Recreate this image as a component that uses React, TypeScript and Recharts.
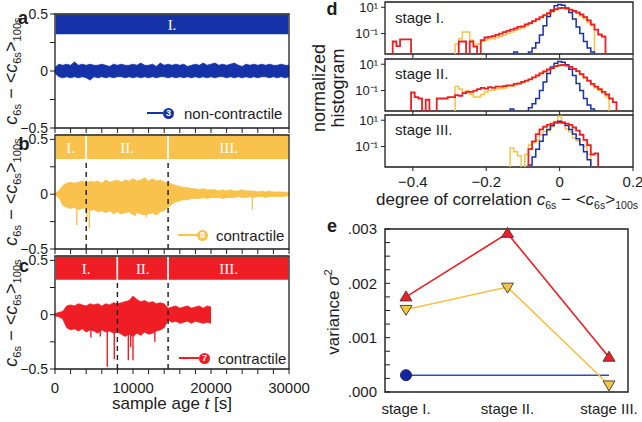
import React from "react";
import {
  ComposedChart,
  LineChart,
  Line,
  Area,
  XAxis,
  YAxis,
  ReferenceArea,
  ReferenceLine,
} from "recharts";

const FONT = "'Liberation Sans', Arial, sans-serif";
const SERIF = "'Liberation Serif', 'Times New Roman', serif";
const INK = "#1c1c1c";
const BLUE = "#1632a8";
const YELLOW = "#f8c24c";
const RED = "#ee1e24";

// ---- panels a-c: c6s - <c6s>100s, envelope every 500 s ----
const sampleTimes = [
  0, 500, 1000, 1500, 2000, 2500, 3000, 3500, 4000, 4500,
  5000, 5500, 6000, 6500, 7000, 7500, 8000, 8500, 9000, 9500,
  10000, 10500, 11000, 11500, 12000, 12500, 13000, 13500, 14000, 14500,
  15000, 15500, 16000, 16500, 17000, 17500, 18000, 18500, 19000, 19500,
  20000, 20500, 21000, 21500, 22000, 22500, 23000, 23500, 24000, 24500,
  25000, 25500, 26000, 26500, 27000, 27500, 28000, 28500, 29000, 29500,
  30000,
];

const aHigh = [
  0.03, 0.06, 0.05, 0.06, 0.05, 0.08, 0.05, 0.06, 0.05, 0.06,
  0.05, 0.05, 0.06, 0.05, 0.04, 0.06, 0.05, 0.06, 0.05, 0.05,
  0.06, 0.05, 0.07, 0.05, 0.05, 0.06, 0.04, 0.07, 0.05, 0.06,
  0.05, 0.06, 0.05, 0.06, 0.04, 0.05, 0.06, 0.05, 0.07, 0.05,
  0.06, 0.07, 0.05, 0.06, 0.05, 0.06, 0.07, 0.05, 0.04, 0.06,
  0.05, 0.06, 0.05, 0.06, 0.05, 0.06, 0.05, 0.05, 0.06, 0.05,
  0.05,
];
const aLow = [
  -0.02, -0.05, -0.06, -0.05, -0.06, -0.05, -0.06, -0.05, -0.06, -0.08,
  -0.05, -0.06, -0.05, -0.06, -0.05, -0.06, -0.05, -0.05, -0.06, -0.05,
  -0.06, -0.05, -0.06, -0.05, -0.06, -0.05, -0.06, -0.05, -0.05, -0.06,
  -0.05, -0.06, -0.05, -0.06, -0.05, -0.06, -0.05, -0.06, -0.05, -0.06,
  -0.05, -0.06, -0.05, -0.05, -0.06, -0.05, -0.06, -0.05, -0.06, -0.05,
  -0.06, -0.05, -0.06, -0.05, -0.05, -0.06, -0.05, -0.06, -0.05, -0.06,
  -0.05,
];

const bHigh = [
  0.01, 0.03, 0.08, 0.1, 0.11, 0.1, 0.11, 0.12, 0.1, 0.12,
  0.11, 0.12, 0.1, 0.13, 0.11, 0.12, 0.13, 0.11, 0.13, 0.12,
  0.14, 0.12, 0.13, 0.15, 0.12, 0.14, 0.12, 0.13, 0.11, 0.11,
  0.09, 0.08, 0.07, 0.06, 0.06, 0.05, 0.05, 0.04, 0.05, 0.04,
  0.04, 0.04, 0.03, 0.04, 0.03, 0.04, 0.03, 0.03, 0.04, 0.03,
  0.03, 0.03, 0.02, 0.03, 0.02, 0.03, 0.02, 0.02, 0.02, 0.02,
  0.01,
];
const bLow = [
  -0.01, -0.03, -0.1, -0.12, -0.13, -0.12, -0.14, -0.13, -0.12, -0.15,
  -0.14, -0.16, -0.15, -0.17, -0.15, -0.18, -0.16, -0.18, -0.17, -0.16,
  -0.19, -0.17, -0.18, -0.19, -0.18, -0.17, -0.19, -0.16, -0.15, -0.12,
  -0.09, -0.07, -0.06, -0.05, -0.05, -0.04, -0.04, -0.04, -0.03, -0.04,
  -0.03, -0.03, -0.03, -0.04, -0.03, -0.03, -0.03, -0.02, -0.03, -0.03,
  -0.02, -0.03, -0.02, -0.02, -0.03, -0.02, -0.02, -0.02, -0.02, -0.02,
  -0.01,
];
const bSpikeT = [2800, 4100, 4400, 10300, 11700, 25300];
const bSpikeV = [-0.28, -0.24, -0.31, -0.2, -0.21, -0.14];

const cTimes = sampleTimes.slice(0, 41);
const cHigh = [
  0.01, 0.02, 0.03, 0.08, 0.09, 0.08, 0.1, 0.09, 0.08, 0.1,
  0.09, 0.1, 0.08, 0.1, 0.09, 0.11, 0.1, 0.11, 0.12, 0.13,
  0.17, 0.14, 0.12, 0.13, 0.11, 0.12, 0.1, 0.11, 0.1, 0.06,
  0.07, 0.08, 0.06, 0.07, 0.08, 0.06, 0.07, 0.08, 0.06, 0.08,
  0.07,
];
const cLow = [
  -0.01, -0.02, -0.04, -0.12, -0.14, -0.13, -0.15, -0.13, -0.16, -0.14,
  -0.15, -0.17, -0.14, -0.16, -0.15, -0.17, -0.16, -0.18, -0.2, -0.18,
  -0.2, -0.17, -0.19, -0.16, -0.18, -0.17, -0.15, -0.14, -0.12, -0.05,
  -0.07, -0.06, -0.08, -0.07, -0.06, -0.08, -0.06, -0.07, -0.08, -0.07,
  -0.08,
];
const cSpikeT = [4600, 5800, 6700, 7600, 9400, 9700, 10000, 12800];
const cSpikeV = [-0.21, -0.2, -0.48, -0.41, -0.42, -0.3, -0.42, -0.25];

const stageNames = ["I.", "II.", "III."];
const aStages = [0, 30000];
const bStages = [0, 4000, 14500, 30000];
const cStages = [0, 8000, 14500, 30000];

const xTicks = [0, 2000, 4000, 6000, 8000, 10000, 12000, 14000, 16000, 18000, 20000, 22000, 24000, 26000, 28000, 30000];
const yTicks = [-0.5, -0.25, 0, 0.25, 0.5];

// ---- panel d: normalized histograms, bins every 0.01 ----
const histX = [
  -0.48, -0.47, -0.46, -0.45, -0.44, -0.43, -0.42, -0.41,
  -0.4, -0.39, -0.38, -0.37, -0.36, -0.35, -0.34, -0.33, -0.32, -0.31,
  -0.3, -0.29, -0.28, -0.27, -0.26, -0.25, -0.24, -0.23, -0.22, -0.21,
  -0.2, -0.19, -0.18, -0.17, -0.16, -0.15, -0.14, -0.13, -0.12, -0.11,
  -0.1, -0.09, -0.08, -0.07, -0.06, -0.05, -0.04, -0.03, -0.02, -0.01,
  0, 0.01, 0.02, 0.03, 0.04, 0.05, 0.06, 0.07, 0.08, 0.09,
  0.1, 0.11, 0.12, 0.13, 0.14, 0.15, 0.16, 0.17, 0.18, 0.19,
  0.2,
];

const blueI = [
  0, 0, 0, 0, 0, 0, 0, 0,
  0, 0, 0, 0, 0, 0, 0, 0, 0, 0,
  0, 0, 0, 0, 0, 0, 0, 0, 0, 0,
  0, 0, 0, 0, 0, 0, 0, 0, 0.004, 0,
  0, 0, 0.004, 0.008, 0.02, 0.079, 0.4, 2.0, 6.3, 13,
  16, 14, 8.9, 4.0, 1.26, 0.32, 0.1, 0.025, 0.008, 0.004,
  0, 0, 0, 0, 0, 0, 0, 0, 0, 0,
  0,
];
const yellowI = [
  0, 0, 0, 0, 0, 0, 0, 0,
  0, 0, 0, 0, 0, 0, 0, 0, 0, 0,
  0, 0, 0.016, 0.04, 0.13, 0.13, 0.032, 0.013, 0.016, 0.025,
  0.032, 0.04, 0.04, 0.05, 0.063, 0.079, 0.1, 0.13, 0.18, 0.22,
  0.28, 0.4, 0.56, 0.79, 1.1, 1.6, 2.2, 3.2, 4.5, 6.3,
  8.3, 8.9, 7.9, 6.3, 4.8, 3.5, 2.2, 1.3, 0.7, 0.4,
  0, 0, 0, 0, 0, 0, 0, 0, 0, 0,
  0,
];
const redI = [
  0, 0, 0, 0.025, 0.011, 0.036, 0.036, 0.036,
  0, 0, 0, 0, 0, 0, 0, 0, 0, 0,
  0, 0, 0, 0.025, 0.025, 0, 0.025, 0.01, 0, 0.032,
  0.05, 0.056, 0.063, 0.079, 0.1, 0.13, 0.16, 0.2, 0.25, 0.32,
  0.35, 0.5, 0.63, 0.89, 1.26, 1.8, 2.5, 3.5, 5.0, 7.1,
  8.5, 8.9, 7.9, 6.6, 5.2, 4.0, 2.8, 1.8, 1.0, 0.5,
  0.2, 0.085, 0.06, 0, 0, 0, 0, 0, 0, 0,
  0,
];

const blueII = [
  0, 0, 0, 0, 0, 0, 0, 0,
  0, 0, 0, 0, 0, 0, 0, 0, 0, 0,
  0, 0, 0, 0, 0, 0, 0, 0, 0, 0,
  0, 0, 0, 0, 0, 0, 0, 0.004, 0, 0,
  0, 0, 0.005, 0.01, 0.025, 0.1, 0.45, 2.0, 6.3, 12,
  16, 14, 9.0, 4.2, 1.4, 0.35, 0.1, 0.025, 0.008, 0.004,
  0, 0, 0, 0, 0, 0, 0, 0, 0, 0,
  0,
];
const yellowII = [
  0, 0, 0, 0, 0, 0, 0, 0,
  0, 0, 0, 0, 0, 0, 0, 0, 0, 0,
  0, 0, 0.2, 0.13, 0.079, 0.1, 0.05, 0.032, 0.032, 0.05,
  0.079, 0.1, 0.11, 0.13, 0.14, 0.16, 0.2, 0.22, 0.28, 0.32,
  0.4, 0.5, 0.71, 1.0, 1.4, 2.0, 2.8, 4.0, 5.2, 7.1,
  8.5, 8.9, 7.9, 6.3, 4.2, 2.8, 1.6, 0.89, 0.5, 0.28,
  0.16, 0.1, 0.063, 0.032, 0, 0, 0, 0, 0, 0,
  0,
];
const redII = [
  0, 0, 0, 0, 0, 0, 0, 0,
  0.071, 0.032, 0.025, 0, 0.02, 0, 0, 0.025, 0.025, 0.025,
  0.032, 0.032, 0.045, 0.04, 0.063, 0.079, 0.079, 0.1, 0.13, 0.16,
  0.14, 0.18, 0.16, 0.2, 0.2, 0.22, 0.25, 0.25, 0.32, 0.35,
  0.45, 0.56, 0.71, 1.0, 1.4, 2.0, 2.8, 4.0, 5.2, 7.1,
  8.3, 8.9, 7.9, 6.3, 4.5, 3.0, 1.8, 1.0, 0.56, 0.32,
  0.2, 0.13, 0.079, 0.05, 0.025, 0.013, 0, 0, 0, 0,
  0,
];

const blueIII = [
  0, 0, 0, 0, 0, 0, 0, 0,
  0, 0, 0, 0, 0, 0, 0, 0, 0, 0,
  0, 0, 0, 0, 0, 0, 0, 0, 0, 0,
  0, 0, 0, 0, 0, 0, 0, 0, 0, 0,
  0, 0, 0.004, 0.016, 0.063, 0.25, 0.79, 2.0, 4.0, 7.1,
  8.5, 7.1, 4.0, 2.0, 0.89, 0.4, 0.14, 0.04, 0.01, 0,
  0, 0, 0, 0, 0, 0, 0, 0, 0, 0,
  0,
];
const yellowIII = [
  0, 0, 0, 0, 0, 0, 0, 0,
  0, 0, 0, 0, 0, 0, 0, 0, 0, 0,
  0, 0, 0, 0, 0, 0, 0, 0, 0, 0,
  0, 0, 0, 0, 0, 0, 0, 0.079, 0.04, 0.02,
  0, 0.025, 0.13, 0.2, 0.32, 0.79, 1.4, 1.6, 3.2, 7.9,
  20, 6.3, 2.2, 1.26, 0.45, 0.28, 0.14, 0.1, 0.025, 0,
  0, 0, 0, 0, 0, 0, 0, 0, 0, 0,
  0,
];
const redIII = [
  0, 0, 0, 0, 0, 0, 0, 0,
  0, 0, 0, 0, 0, 0, 0, 0, 0, 0,
  0, 0, 0, 0, 0, 0, 0, 0, 0, 0,
  0, 0, 0, 0, 0, 0, 0, 0, 0, 0,
  0, 0, 0.063, 0.25, 0.89, 2.0, 3.2, 4.5, 5.6, 6.3,
  6.6, 6.3, 5.6, 4.5, 2.8, 1.6, 0.79, 0.32, 0.13, 0.025,
  0.03, 0, 0, 0, 0, 0, 0, 0, 0, 0,
  0,
];

const HIST_MIN = 0.0028;
const HIST_MAX = 25;
const HIST_X_MIN = -0.476;
const HIST_X_MAX = 0.2;

// ---- panel e: variance per stage ----
const stageLabels = ["stage I.", "stage II.", "stage III."];
const varRed = [0.00175, 0.00292, 0.00064];
const varYellow = [0.00152, 0.00193, 0.00013];
const varBlue = [0.00031, 0.00031, 0.00031];
const varTicks = [0, 0.00025, 0.0005, 0.00075, 0.001, 0.00125, 0.0015, 0.00175, 0.002, 0.00225, 0.0025, 0.00275, 0.003];

const tickStyle = { fontSize: 15, fill: INK, fontFamily: FONT };
const traceTickStyle = { fontSize: 14, fill: INK, fontFamily: FONT };

const fmtY = (v: number) => (v === 0 ? "0" : v === 0.5 ? "0.5" : v === -0.5 ? "\u22120.5" : "");

function Sub({ children }: { children: React.ReactNode }) {
  return <span style={{ fontSize: "0.62em", position: "relative", top: "0.35em" }}>{children}</span>;
}

function CorrText() {
  return (
    <>
      <i>c</i>
      <Sub>6s</Sub> {"\u2212"} &lt;<i>c</i>
      <Sub>6s</Sub>&gt;<Sub>100s</Sub>
    </>
  );
}

function Rotated({ cx, cy, size, children }: { cx: number; cy: number; size: number; children: React.ReactNode }) {
  return (
    <div
      style={{
        position: "absolute",
        left: cx,
        top: cy,
        transform: "translate(-50%, -50%) rotate(-90deg)",
        whiteSpace: "nowrap",
        fontFamily: FONT,
        fontSize: size,
        lineHeight: `${size + 1}px`,
        color: INK,
        textAlign: "center",
      }}
    >
      {children}
    </div>
  );
}

function Centered({ cx, cy, size, bold, children }: { cx: number; cy: number; size: number; bold?: boolean; children: React.ReactNode }) {
  return (
    <div
      style={{
        position: "absolute",
        left: cx,
        top: cy,
        transform: "translate(-50%, -50%)",
        whiteSpace: "nowrap",
        fontFamily: FONT,
        fontSize: size,
        fontWeight: bold ? 700 : 400,
        lineHeight: bold ? `${size - 2}px` : `${size + 2}px`,
        color: INK,
      }}
    >
      {children}
    </div>
  );
}

function Badge({ left, cy, lineW, gap, color, num, text }: { left: number; cy: number; lineW: number; gap: number; color: string; num: string; text: string }) {
  return (
    <div
      style={{
        position: "absolute",
        left,
        top: cy - 9,
        height: 18,
        display: "flex",
        alignItems: "center",
        fontFamily: FONT,
        fontSize: 15,
        color: INK,
        whiteSpace: "nowrap",
      }}
    >
      <span style={{ width: lineW, height: 2, background: color }} />
      <span
        style={{
          width: 11,
          height: 11,
          borderRadius: "50%",
          background: color,
          color: "#fff",
          fontSize: 9,
          fontWeight: 700,
          lineHeight: "11px",
          textAlign: "center",
        }}
      >
        {num}
      </span>
      <span style={{ marginLeft: gap }}>{text}</span>
    </div>
  );
}

type TraceProps = {
  top: number;
  height: number;
  marginTop: number;
  xAxisHeight: number;
  yTop: number;
  times: number[];
  high: number[];
  low: number[];
  spikeT: number[];
  spikeV: number[];
  stages: number[];
  color: string;
  showX: boolean;
};

function TracePanel(p: TraceProps) {
  const data = p.times.map((t, i) => ({ t, band: [p.low[i], p.high[i]] }));
  const spikes = p.spikeT.flatMap((t, i) => [
    { t, v: 0 },
    { t, v: p.spikeV[i] },
    { t, v: null },
  ]);
  return (
    <div style={{ position: "absolute", left: 0, top: p.top }}>
      <ComposedChart width={320} height={p.height} data={data} margin={{ top: p.marginTop, right: 31, bottom: 0, left: 0 }}>
        <XAxis
          type="number"
          dataKey="t"
          domain={[0, 30000]}
          ticks={xTicks}
          interval={0}
          tickFormatter={(v: number) => (p.showX && v % 10000 === 0 ? String(v) : "")}
          height={p.xAxisHeight}
          axisLine={false}
          tickSize={5}
          tickMargin={8}
          tickLine={{ stroke: INK }}
          tick={tickStyle}
        />
        <YAxis
          type="number"
          domain={[-0.5, p.yTop]}
          allowDataOverflow
          ticks={yTicks}
          interval={0}
          tickFormatter={fmtY}
          width={55}
          axisLine={false}
          tickSize={5}
          tickMargin={2}
          tickLine={{ stroke: INK }}
          tick={traceTickStyle}
        />
        <Area dataKey="band" type="linear" stroke={p.color} strokeWidth={0.8} fill={p.color} fillOpacity={1} isAnimationActive={false} />
        <Line data={spikes} dataKey="v" type="linear" stroke={p.color} strokeWidth={1.4} dot={false} connectNulls={false} isAnimationActive={false} />
        {p.stages.slice(0, -1).map((s, i) => (
          <ReferenceArea
            key={`band${i}`}
            x1={s}
            x2={p.stages[i + 1]}
            y1={0.315}
            y2={p.yTop}
            fill={p.color}
            fillOpacity={1}
            stroke="#ffffff"
            strokeWidth={1.5}
            ifOverflow="visible"
            label={{ value: stageNames[i], position: "center", fill: "#ffffff", fontSize: 15, fontFamily: SERIF }}
          />
        ))}
        {p.stages.slice(1, -1).map((s, i) => (
          <ReferenceLine
            key={`cut${i}`}
            segment={[
              { x: s, y: -0.5 },
              { x: s, y: 0.315 },
            ]}
            stroke={INK}
            strokeWidth={1.4}
            strokeDasharray="5 4"
          />
        ))}
        <ReferenceArea x1={0} x2={30000} y1={-0.5} y2={p.yTop} fill="none" stroke={INK} strokeWidth={1.3} ifOverflow="visible" />
      </ComposedChart>
    </div>
  );
}

const floorLog = (v: number) => (v > 0 ? v : 0.001);

type HistProps = {
  top: number;
  height: number;
  xAxisHeight: number;
  blue: number[];
  yellow: number[];
  red: number[];
  showX: boolean;
};

function HistPanel(p: HistProps) {
  const data = histX.map((x, i) => ({
    x,
    blue: floorLog(p.blue[i]),
    yellow: floorLog(p.yellow[i]),
    red: floorLog(p.red[i]),
  }));
  return (
    <div style={{ position: "absolute", left: 330, top: p.top }}>
      <LineChart width={320} height={p.height} data={data} margin={{ top: 2, right: 17, bottom: 0, left: 0 }}>
        <XAxis
          type="number"
          dataKey="x"
          domain={[HIST_X_MIN, HIST_X_MAX]}
          allowDataOverflow
          ticks={[-0.4, -0.2, 0, 0.2]}
          interval={0}
          tickFormatter={(v: number) => (p.showX ? String(v).replace("-", "\u2212") : "")}
          height={p.xAxisHeight}
          axisLine={false}
          tickSize={4}
          tickMargin={5}
          tickLine={{ stroke: INK }}
          tick={tickStyle}
        />
        <YAxis
          type="number"
          scale="log"
          domain={[HIST_MIN, HIST_MAX]}
          allowDataOverflow
          ticks={[0.1, 10]}
          interval={0}
          tickFormatter={(v: number) => (v > 1 ? "10\u00b9" : "10\u207b\u00b9")}
          width={55}
          axisLine={false}
          tickSize={4}
          tickMargin={3}
          tickLine={{ stroke: INK }}
          tick={{ fontSize: 13, fill: INK, fontFamily: FONT }}
        />
        <Line dataKey="yellow" type="step" stroke={YELLOW} strokeWidth={1.5} dot={false} isAnimationActive={false} />
        <Line dataKey="blue" type="step" stroke={BLUE} strokeWidth={1.5} dot={false} isAnimationActive={false} />
        <Line dataKey="red" type="step" stroke={RED} strokeWidth={1.8} dot={false} isAnimationActive={false} />
        <ReferenceArea x1={HIST_X_MIN} x2={HIST_X_MAX} y1={HIST_MIN} y2={HIST_MAX} fill="none" stroke={INK} strokeWidth={1.3} ifOverflow="visible" />
      </LineChart>
    </div>
  );
}

const upTriangle = (props: any) => {
  const { cx, cy, index } = props;
  return (
    <polygon
      key={`up${index}`}
      points={`${cx},${cy - 6} ${cx - 6},${cy + 4} ${cx + 6},${cy + 4}`}
      fill={RED}
      stroke="#3a3a3a"
      strokeWidth={0.9}
    />
  );
};

const downTriangle = (props: any) => {
  const { cx, cy, index } = props;
  return (
    <polygon
      key={`dn${index}`}
      points={`${cx - 6},${cy - 4} ${cx + 6},${cy - 4} ${cx},${cy + 6}`}
      fill="#f6c445"
      stroke="#3a3a3a"
      strokeWidth={0.9}
    />
  );
};

const firstCircle = (props: any) => {
  const { cx, cy, index } = props;
  if (index !== 0) return <g key={`c${index}`} />;
  return <circle key={`c${index}`} cx={cx} cy={cy} r={5.5} fill="#1227a8" stroke="#1a1a40" strokeWidth={0.9} />;
};

function VariancePanel() {
  const data = stageLabels.map((s, i) => ({ i, red: varRed[i], yellow: varYellow[i], blue: varBlue[i] }));
  const fmtVar = (v: number) => {
    const m = v * 1000;
    return Math.abs(m - Math.round(m)) < 1e-6 ? "." + String(Math.round(m)).padStart(3, "0") : "";
  };
  return (
    <div style={{ position: "absolute", left: 330, top: 215 }}>
      <LineChart width={320} height={207} data={data} margin={{ top: 14, right: 22, bottom: 0, left: 0 }}>
        <XAxis
          type="number"
          dataKey="i"
          domain={[-0.207, 2.187]}
          ticks={[0, 1, 2]}
          interval={0}
          tickFormatter={(v: number) => stageLabels[v]}
          height={30}
          axisLine={false}
          tickLine={false}
          tickMargin={5}
          tick={tickStyle}
        />
        <YAxis
          type="number"
          domain={[0, 0.003]}
          ticks={varTicks}
          interval={0}
          tickFormatter={fmtVar}
          width={55}
          axisLine={false}
          tickSize={-5}
          tickMargin={13}
          tickLine={{ stroke: INK }}
          tick={tickStyle}
        />
        <YAxis
          yAxisId="r"
          orientation="right"
          type="number"
          domain={[0, 0.003]}
          ticks={varTicks}
          interval={0}
          tickFormatter={() => ""}
          width={0}
          axisLine={false}
          tickSize={-5}
          tickLine={{ stroke: INK }}
        />
        <Line yAxisId="r" dataKey="blue" stroke="#2a4cc0" strokeWidth={1.5} dot={firstCircle} isAnimationActive={false} />
        <Line dataKey="yellow" stroke="#f8c040" strokeWidth={1.5} dot={downTriangle} isAnimationActive={false} />
        <Line dataKey="red" stroke={RED} strokeWidth={1.6} dot={upTriangle} isAnimationActive={false} />
        <ReferenceArea x1={-0.207} x2={2.187} y1={0} y2={0.003} fill="none" stroke={INK} strokeWidth={1.4} ifOverflow="visible" />
      </LineChart>
    </div>
  );
}

export default function App() {
  return (
    <div style={{ position: "absolute", left: 0, top: 0, width: 642, height: 422, background: "#fff", overflow: "hidden" }}>
      <TracePanel top={0} height={142} marginTop={14} xAxisHeight={14} yTop={0.5} times={sampleTimes} high={aHigh} low={aLow} spikeT={[]} spikeV={[]} stages={aStages} color={BLUE} showX={false} />
      <TracePanel top={130} height={133} marginTop={5} xAxisHeight={14} yTop={0.54} times={sampleTimes} high={bHigh} low={bLow} spikeT={bSpikeT} spikeV={bSpikeV} stages={bStages} color={YELLOW} showX={false} />
      <TracePanel top={250} height={147} marginTop={6} xAxisHeight={28} yTop={0.54} times={cTimes} high={cHigh} low={cLow} spikeT={cSpikeT} spikeV={cSpikeV} stages={cStages} color={RED} showX={true} />

      <Badge left={147} cy={113} lineW={16} gap={10} color={BLUE} num="3" text="non-contractile" />
      <Badge left={178} cy={235} lineW={19} gap={8} color={YELLOW} num="8" text="contractile" />
      <Badge left={179} cy={358} lineW={20} gap={8} color={RED} num="7" text="contractile" />

      <Rotated cx={12} cy={71} size={18}><CorrText /></Rotated>
      <Rotated cx={12} cy={192} size={18}><CorrText /></Rotated>
      <Rotated cx={12} cy={313} size={18}><CorrText /></Rotated>
      <Centered cx={172} cy={403} size={17}>
        sample age <i>t</i> [s]
      </Centered>

      <Centered cx={23} cy={18} size={18} bold>a</Centered>
      <Centered cx={24} cy={144} size={18} bold>b</Centered>
      <Centered cx={24} cy={266} size={18} bold>c</Centered>
      <Centered cx={332} cy={9} size={18} bold>d</Centered>
      <Centered cx={332} cy={226} size={18} bold>e</Centered>

      <HistPanel top={0} height={58} xAxisHeight={4} blue={blueI} yellow={yellowI} red={redI} showX={false} />
      <HistPanel top={57} height={58} xAxisHeight={4} blue={blueII} yellow={yellowII} red={redII} showX={false} />
      <HistPanel top={113} height={78} xAxisHeight={24} blue={blueIII} yellow={yellowIII} red={redIII} showX={true} />

      <div style={{ position: "absolute", left: 395, top: 9, fontFamily: FONT, fontSize: 15, color: INK }}>stage I.</div>
      <div style={{ position: "absolute", left: 395, top: 65, fontFamily: FONT, fontSize: 15, color: INK }}>stage II.</div>
      <div style={{ position: "absolute", left: 395, top: 121, fontFamily: FONT, fontSize: 15, color: INK }}>stage III.</div>

      <Rotated cx={329} cy={88} size={18}>
        normalized
        <br />
        histogram
      </Rotated>
      <Centered cx={507} cy={200} size={17}>
        degree of correlation <CorrText />
      </Centered>
      <Rotated cx={331} cy={312} size={17}>
        variance <i>{"\u03c3"}</i>
        <sup style={{ fontSize: "0.65em" }}>2</sup>
      </Rotated>

      <VariancePanel />
    </div>
  );
}
